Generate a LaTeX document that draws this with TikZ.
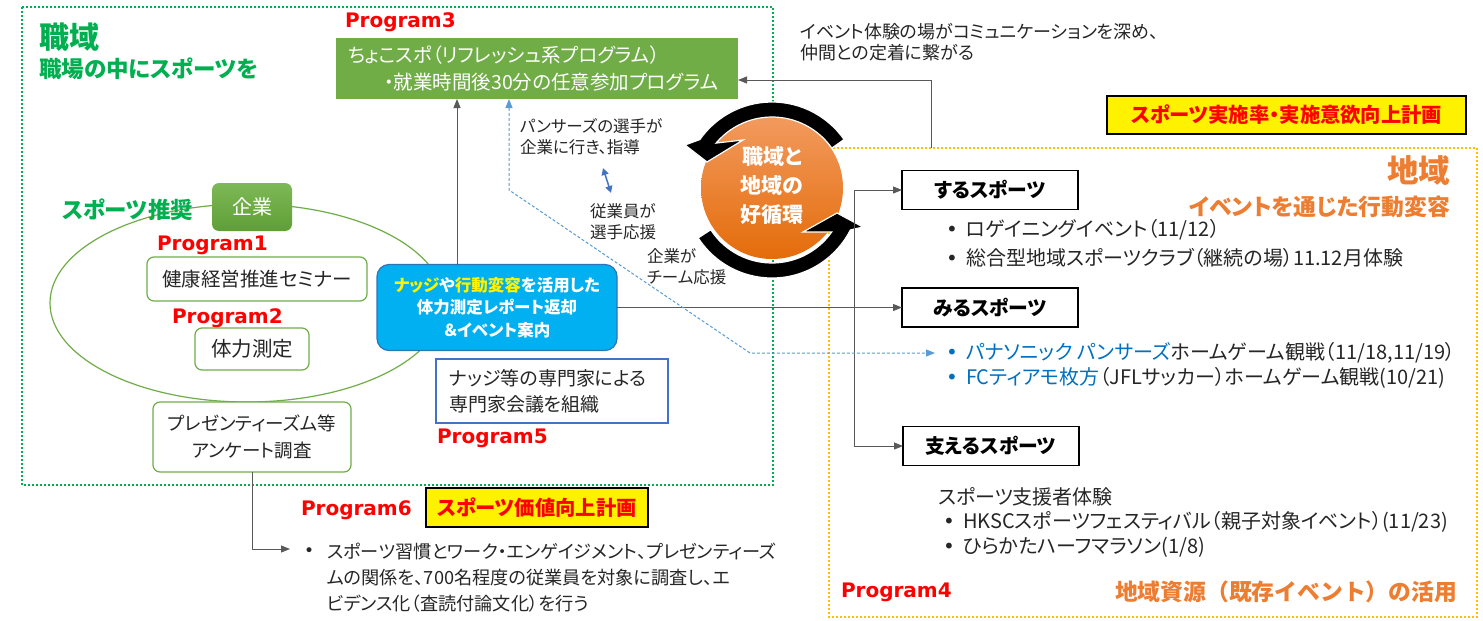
\documentclass[tikz,border=0pt]{standalone}
\usepackage{fontspec}
\setmainfont{Noto Sans CJK JP}[RawFeature=+palt]
\newfontfamily\jpnp{Noto Sans CJK JP}
\newfontfamily\progfont{DejaVu Sans}
\usetikzlibrary{arrows.meta,shapes.geometric}
\definecolor{grn}{HTML}{00B050}
\definecolor{gbox}{HTML}{70AD47}
\definecolor{gboxl}{HTML}{7DB956}
\definecolor{gboxd}{HTML}{5F9E37}
\definecolor{org}{HTML}{ED7D31}
\definecolor{gold}{HTML}{FFC000}
\definecolor{txt}{HTML}{262626}
\definecolor{ln}{HTML}{595959}
\definecolor{bluebox}{HTML}{00B0F0}
\definecolor{blueedge}{HTML}{2E75B6}
\definecolor{btxt}{HTML}{0070C0}
\definecolor{dashc}{HTML}{5B9BD5}
\definecolor{arrblue}{HTML}{4472C4}
\definecolor{ctop}{HTML}{F29A5E}
\definecolor{cbot}{HTML}{E46C0A}
\newcommand\bul{\makebox[20pt][l]{\progfont •}}
\begin{document}
\begin{tikzpicture}[x=1pt,y=-1pt,
  every node/.style={inner sep=0pt, outer sep=0pt},
  prog/.style={anchor=west, text=red, font=\progfont\bfseries\fontsize{20}{24}\selectfont},
  body/.style={text=txt, font=\fontsize{20}{24}\selectfont},
  gframe/.style={draw=grn, line width=2pt, dash pattern=on 2pt off 2pt},
  oframe/.style={draw=gold, line width=2pt, dash pattern=on 2pt off 2pt},
  wbox/.style={draw=gbox, line width=1.2pt, rounded corners=7pt, fill=white, text=txt, align=center, font=\fontsize{18.5}{27}\selectfont},
  sportbox/.style={draw=black, line width=1.3pt, fill=white, minimum width=176pt, minimum height=39pt, font=\bfseries\fontsize{19.8}{22}\selectfont},
  ybox/.style={draw=black, line width=1.2pt, fill=yellow, text=red, font=\bfseries\fontsize{20.3}{23}\selectfont},
  conn/.style={draw=ln, line width=0.9pt, -{Triangle[length=9pt,width=7pt]}},
  dconn/.style={draw=dashc, line width=1pt, dash pattern=on 3pt off 2pt, {Triangle[length=9pt,width=7pt]}-{Triangle[length=9pt,width=7pt]}},
  lbl/.style={anchor=west, text=txt, align=left, font=\fontsize{16.5}{21}\selectfont}
]
\useasboundingbox (0,0) rectangle (1483,621);
\fill[white] (0,0) rectangle (1483,621);

% frames
\draw[gframe] (22,7) rectangle (773,485);
\draw[oframe] (829,148) rectangle (1477,617);

% left titles
\node[anchor=west, text=grn, font=\bfseries\fontsize{30}{33}\selectfont] (shokuiki) at (39,37) {職域};
\node[anchor=west, text=grn, font=\bfseries\fontsize{22.5}{25}\selectfont] (shokuikisub) at (39,69) {職場の中にスポーツを};

% ellipse and company
\node[ellipse, draw=gbox, line width=1.2pt, minimum width=394pt, minimum height=198pt] (ell) at (247,303) {};
\node[top color=gboxl, bottom color=gboxd, rounded corners=7pt, minimum width=80pt, minimum height=48pt, text=white, font=\fontsize{20}{24}\selectfont] (kigyo) at (252,207) {企業};
\node[anchor=west, text=grn, font=\bfseries\fontsize{22.5}{25}\selectfont] (suisho) at (62,210) {スポーツ推奨};

\node[prog] (p1) at (157,245) {Program1};
\node[wbox, minimum width=220pt, minimum height=44pt, font=\fontsize{19.5}{24}\selectfont] (semi) at (257,279) {健康経営推進セミナー};
\node[prog] (p2) at (172,318) {Program2};
\node[wbox, minimum width=114pt, minimum height=42pt, font=\fontsize{20.5}{24}\selectfont] (tai) at (252,349) {体力測定};
\node[wbox, minimum width=198pt, minimum height=70pt] (pres) at (252,437) {プレゼンティーズム等\\アンケート調査};

% Program3 box
\node[prog] (p3) at (345,22) {Program3};
\node[fill=gbox, anchor=north west, minimum height=61pt, text width=378pt, inner xsep=12pt, align=left, text=white, font=\fontsize{19.5}{27}\selectfont] (choko) at (336,38) {ちょこスポ（リフレッシュ系プログラム）\\\hspace*{36pt}・就業時間後30分の任意参加プログラム};

% event comment
\node[anchor=west, text=txt, align=left, font=\fontsize{18}{21}\selectfont] (ev) at (800,42) {イベント体験の場がコミュニケーションを深め、\\仲間との定着に繋がる};
\coordinate (evfoot) at (931,148);
\coordinate (evcorner) at (931,80);
\draw[conn] (evfoot) -- (evcorner) -- (evcorner -| choko.east);

% plan 1
\node[ybox, minimum width=359pt, minimum height=38pt] (plan1) at (1286.5,115) {スポーツ実施率・実施意欲向上計画};

% chiiki titles
\node[anchor=east, text=org, font=\bfseries\fontsize{31.5}{34}\selectfont] (chiiki) at (1450,171) {地域};
\node[anchor=east, text=org, font=\bfseries\fontsize{22.8}{26}\selectfont] (chiikisub) at (1450,207) {イベントを通じた行動変容};

% nudge box
\node[fill=bluebox, draw=blueedge, line width=1.2pt, rounded corners=12pt, minimum width=240pt, minimum height=86pt, text=white, align=center, font=\bfseries\fontsize{16.5}{22.5}\selectfont] (nudge) at (497,307.5) {\textcolor{yellow}{ナッジ}や\textcolor{yellow}{行動変容}を活用した\\体力測定レポート返却\\＆イベント案内};
\draw[conn] ([xshift=-40pt]nudge.north) -- ([xshift=-40pt]nudge.north |- choko.south);

% expert box
\node[draw=arrblue, line width=1.2pt, fill=white, minimum height=64pt, text width=206pt, inner xsep=13pt, align=left, text=txt, font=\fontsize{19}{26}\selectfont] (expert) at (552,391) {ナッジ等の専門家による\\専門家会議を組織};
\node[prog] (p5) at (437,438) {Program5};

% middle labels
\node[lbl] (pl1) at (520,137) {パンサーズの選手が\\企業に行き、指導};
\node[lbl] (pl2) at (590,222) {従業員が\\選手応援};
\node[lbl] (pl3) at (647,267) {企業が\\チーム応援};
\coordinate (da1) at (603,168);
\coordinate (da2) at (611,193);
\draw[draw=arrblue, line width=1.5pt, {Triangle[length=7pt,width=7pt]}-{Triangle[length=7pt,width=7pt]}] (da1) -- (da2);

% cycle
\node[circle, minimum size=142pt, top color=ctop, bottom color=cbot] (cyc) at (772,188) {};
\begin{scope}[shift={(772,190)}, yscale=-1]
  \fill[black, draw=white, line width=1.2pt] (35:88) arc[start angle=35, end angle=145, radius=88] -- (-87,45) -- (-65,28) -- (-29,50) -- (140:73) arc[start angle=140, end angle=35, radius=73] -- cycle;
  \fill[black, draw=white, line width=1.2pt] (213:88) arc[start angle=213, end angle=333, radius=88] -- (91,-37) -- (65,-23) -- (31,-42) -- (325:73) arc[start angle=325, end angle=213, radius=73] -- cycle;
\end{scope}
\node[text=white, align=center, font=\bfseries\fontsize{21}{29}\selectfont] (cyctxt) at (772,186) {職域と\\地域の\\好循環};

% sport boxes
\node[sportbox] (suru) at (990,190) {するスポーツ};
\node[sportbox] (miru) at (990,307.5) {みるスポーツ};
\node[sportbox] (sasa) at (991,446) {支えるスポーツ};
\coordinate (bus) at (854,307.5);
\draw[conn] (nudge.east) -- (miru.west);
\draw[conn] (bus) |- (suru.west);
\draw[conn] (bus) |- (sasa.west);

% right texts
\node[anchor=west, body] (r1) at (946,230) {\bul ロゲイニングイベント（11/12）};
\node[anchor=west, body] (r2) at (946,258) {\bul 総合型地域スポーツクラブ（継続の場）11.12月体験};
\node[anchor=west, body] (r3) at (946,353) {\textcolor{btxt}{\bul パナソニック パンサーズ}ホームゲーム観戦（11/18,11/19）};
\node[anchor=west, body] (r4) at (946,378) {\textcolor{btxt}{\bul FCティアモ枚方}（JFLサッカー）ホームゲーム観戦(10/21)};
\node[anchor=west, body] (r5) at (938,497) {スポーツ支援者体験};
\node[anchor=west, body] (r6) at (943,522) {\bul HKSCスポーツフェスティバル（親子対象イベント）(11/23)};
\node[anchor=west, body] (r7) at (943,547) {\bul ひらかたハーフマラソン(1/8)};
\node[prog] (p4) at (841,592) {Program4};
\node[anchor=east, text=org, font=\jpnp\bfseries\fontsize{22.8}{26}\selectfont] (shigen) at (1457,592) {地域資源（既存イベント）の活用};

% dashed connector
\coordinate (d1) at (509,190);
\coordinate (d2) at (750,353);
\draw[dconn] (d1 |- choko.south) -- (d1) -- (d2) -- ([xshift=-11pt]r3.west);

% bottom
\node[prog] (p6) at (301,510) {Program6};
\node[ybox, minimum width=222pt, minimum height=39pt] (plan2) at (537,507.5) {スポーツ価値向上計画};
\coordinate (survtip) at (290,549);
\draw[conn] (pres.south) |- (survtip);
\node[anchor=west, text=txt, font=\fontsize{17}{22}\selectfont] (survbul) at (304,552) {\progfont •};
\node[anchor=west, text=txt, align=left, font=\fontsize{18.2}{26}\selectfont] (survey) at (327,578) {スポーツ習慣とワーク・エンゲイジメント、プレゼンティーズ\\ムの関係を、700名程度の従業員を対象に調査し、エ\\ビデンス化（査読付論文化）を行う};
\end{tikzpicture}
\end{document}
